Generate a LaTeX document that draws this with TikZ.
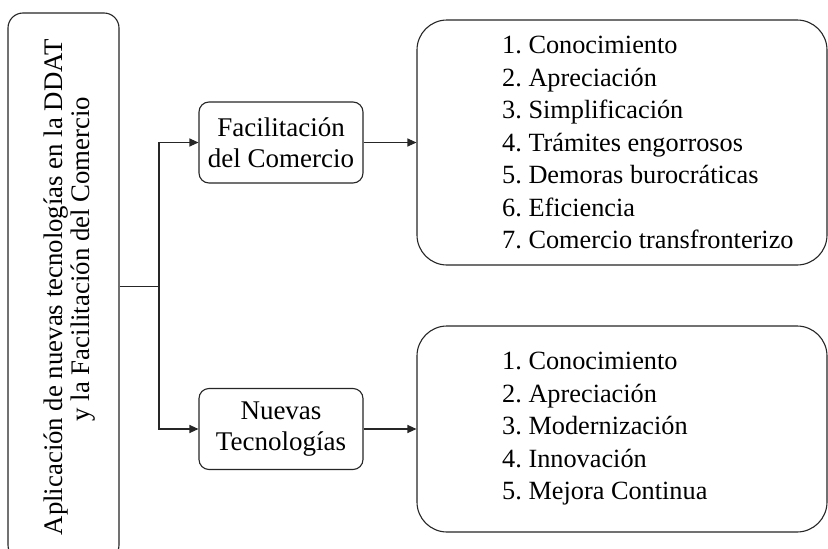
\documentclass[tikz,border=0pt]{standalone}
\usepackage{fontspec}
\setmainfont{Liberation Serif}
\usetikzlibrary{arrows.meta}
\frenchspacing
\tikzset{
  box/.style={draw=black!85, line width=1.1pt, fill=white},
  leftbox/.style={box, rounded corners=15pt, minimum width=111pt, minimum height=547pt, inner sep=0pt},
  midbox/.style={box, rounded corners=10pt, minimum width=164pt, minimum height=81pt, align=center, inner sep=0pt, font=\fontsize{27}{31}\selectfont},
  listbox/.style={box, rounded corners=30pt, minimum width=410pt, inner sep=0pt},
  listtext/.style={align=left, anchor=west, inner sep=0pt, font=\fontsize{26.3}{32.5}\selectfont},
  lefttext/.style={rotate=90, anchor=base, inner sep=0pt, font=\fontsize{26.8}{26}\selectfont},
  conn/.style={draw=black!85, line width=1.1pt},
  arr/.style={conn, -{Triangle[length=9pt,width=8pt]}}
}
\begin{document}
\begin{tikzpicture}[x=1pt,y=-1pt]
\useasboundingbox (0,0) rectangle (828,549);
\clip (0,0) rectangle (828,549);
\node[leftbox] (L) at (63.5,286.5) {};
\node[lefttext] (LT1) at (62,287.5) {Aplicación de nuevas tecnologías en la DDAT};
\node[lefttext] (LT2) at (89,259) {y la Facilitación del Comercio};
\node[midbox] (FC) at (281,142.5) {Facilitación\\del Comercio};
\node[midbox] (NT) at (281,429) {Nuevas\\Tecnologías};
\node[listbox, minimum height=245pt] (R1) at (622,142.5) {};
\node[listbox, minimum height=206pt] (R2) at (622,429) {};
\node[listtext] (T1) at (502,142.5) {1. Conocimiento\\2. Apreciación\\3. Simplificación\\4. Trámites engorrosos\\5. Demoras burocráticas\\6. Eficiencia\\7. Comercio transfronterizo};
\node[listtext] (T2) at (502,429) {1. Conocimiento\\2. Apreciación\\3. Modernización\\4. Innovación\\5. Mejora Continua};
\coordinate (J) at (159,286.5);
\draw[conn] (L.east) -- (J);
\draw[arr] (J) |- (FC.west);
\draw[arr] (J) |- (NT.west);
\draw[arr] (FC.east) -- (R1.west);
\draw[arr] (NT.east) -- (R2.west);
\end{tikzpicture}
\end{document}
